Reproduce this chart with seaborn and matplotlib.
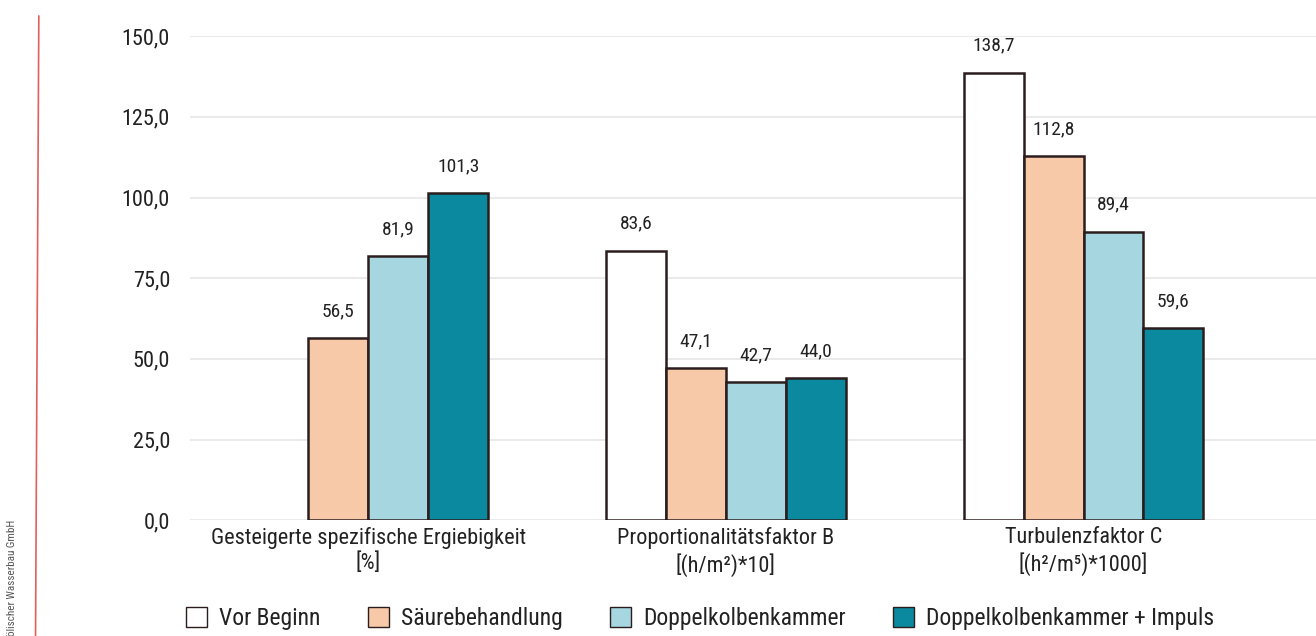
import pandas as pd
import matplotlib
matplotlib.use("Agg")
import matplotlib.pyplot as plt
from matplotlib import font_manager
from matplotlib.lines import Line2D
from matplotlib.patches import Patch
from matplotlib.ticker import FuncFormatter
import seaborn as sns


# Chart data
CATEGORIES = [
    "Gesteigerte spezifische Ergiebigkeit\n[%]",
    "Proportionalitätsfaktor B\n[(h/m²)*10]",
    "Turbulenzfaktor C\n[(h²/m⁵)*1000]",
]
SERIES = ["Vor Beginn", "Säurebehandlung", "Doppelkolbenkammer", "Doppelkolbenkammer + Impuls"]
VOR_BEGINN = [None, 83.6, 138.7]
SAEURE = [56.5, 47.1, 112.8]
DOPPEL = [81.9, 42.7, 89.4]
DOPPEL_IMPULS = [101.3, 44.0, 59.6]
Y_TICKS = [0, 25, 50, 75, 100, 125, 150]

COLORS = ["#FFFFFF", "#F8C9A8", "#A6D6E0", "#0B8A9F"]
EDGE = "#2b1d1d"
TEXT = "#222222"


def pick_font():
    names = {f.name for f in font_manager.fontManager.ttflist}
    for cand in ["Roboto Condensed", "Liberation Sans Narrow", "Open Sans Condensed"]:
        if cand in names:
            return cand
    return "DejaVu Sans"


def build_frame():
    rows = []
    for name, vals in zip(SERIES, [VOR_BEGINN, SAEURE, DOPPEL, DOPPEL_IMPULS]):
        for cat, v in zip(CATEGORIES, vals):
            rows.append({"category": cat, "series": name, "value": v})
    df = pd.DataFrame(rows)
    df["value"] = df["value"].astype(float)
    return df


def comma(v):
    return f"{v:.1f}".replace(".", ",")


def main():
    sns.set_style("white")
    font = pick_font()
    plt.rcParams["font.family"] = [font, "DejaVu Sans"]
    plt.rcParams["text.color"] = TEXT

    df = build_frame()

    fig = plt.figure(figsize=(13.16, 6.36), dpi=100)
    ax = fig.add_axes([0.144, 0.182, 0.856, 0.761])

    sns.barplot(
        data=df, x="category", y="value", hue="series",
        order=CATEGORIES, hue_order=SERIES, palette=COLORS, saturation=1,
        edgecolor=EDGE, linewidth=1.8, width=0.67, ax=ax, legend=False,
    )

    for cont in ax.containers:
        labels = [comma(b.get_height()) if b.get_height() == b.get_height() and b.get_height() > 0 else ""
                  for b in cont]
        ax.bar_label(cont, labels=labels, padding=13, fontsize=14, color=TEXT)

    ax.set_ylim(0, 150)
    ax.set_xlim(-0.5, 2.65)
    ax.set_yticks(Y_TICKS)
    ax.yaxis.set_major_formatter(FuncFormatter(lambda v, _: comma(v)))
    ax.grid(axis="y", color="#e6e6e6", linewidth=1.2)
    ax.set_axisbelow(True)
    for s in ax.spines.values():
        s.set_visible(False)
    ax.tick_params(axis="y", length=0, pad=14, labelsize=16, labelcolor=TEXT)
    ax.tick_params(axis="x", length=0, pad=5, labelsize=16, labelcolor=TEXT)
    ax.set_xlabel("")
    ax.set_ylabel("")

    handles = [Patch(facecolor=c, edgecolor=EDGE, linewidth=1.0) for c in COLORS]
    fig.legend(handles, SERIES, loc="center", bbox_to_anchor=(0.532, 0.027), ncol=4,
               frameon=False, fontsize=17, columnspacing=2.0, handlelength=0.9,
               handleheight=0.9, handletextpad=0.5)

    # decorative side line and rotated credit from the printed page
    fig.add_artist(Line2D([0.0295, 0.027], [0.975, 0.0], color="#e06060", linewidth=1.2))
    fig.text(0.009, 0.0, "ölischer Wasserbau GmbH", rotation=90, fontsize=8,
             color="#555555", ha="center", va="bottom")

    fig.savefig("out.png", dpi=100)
    plt.close(fig)


if __name__ == "__main__":
    main()
